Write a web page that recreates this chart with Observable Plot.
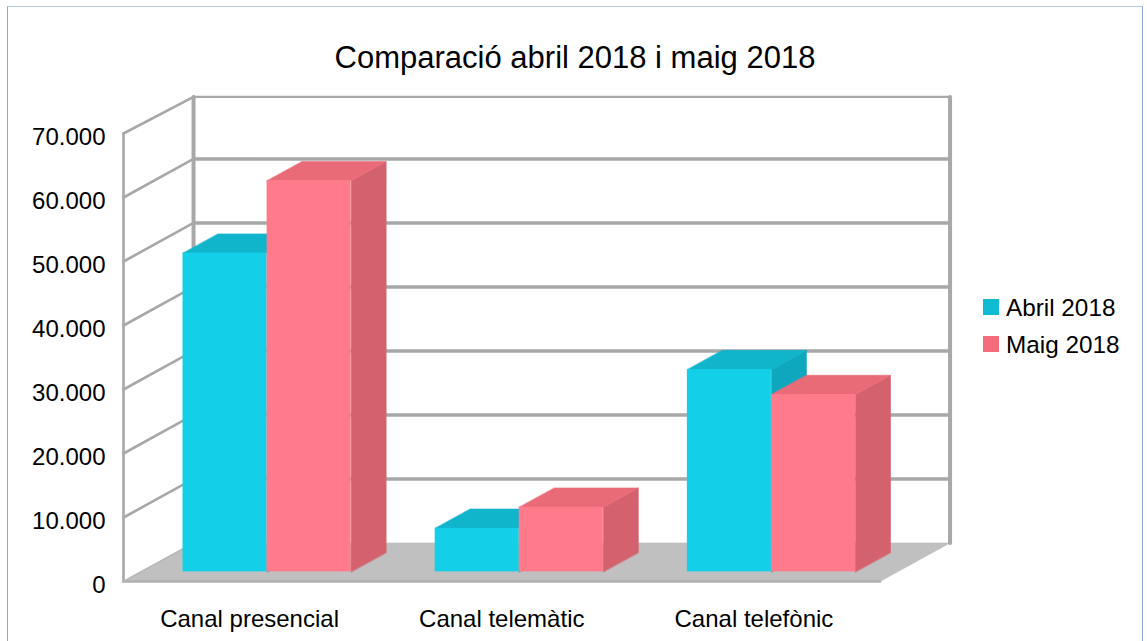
<!DOCTYPE html>
<html lang="ca">
<head>
<meta charset="utf-8">
<script src="https://cdn.jsdelivr.net/npm/d3@7"></script>
<script src="https://cdn.jsdelivr.net/npm/@observablehq/plot@0.6"></script>
<style>
html,body{margin:0;padding:0;background:#fff;overflow:hidden}
#page{position:relative;width:1147px;height:641px;font-family:"Liberation Sans",Arial,sans-serif;color:#000}
#frame{position:absolute;left:7px;top:6px;width:1136px;height:640px;border:1px solid #8fa8d2;border-top-color:#b4c7e7;box-sizing:border-box;pointer-events:none}
#title{height:80px;box-sizing:border-box;padding-top:36px;text-align:center;font-size:31px;line-height:44px;padding-left:3px;white-space:nowrap}
#chart svg{display:block}
#legend{position:absolute;left:983px;top:288px;font-size:24.3px}
.item{display:flex;align-items:center;height:37px}
.sw{width:16px;height:16px;margin-right:7px}
.item span{position:relative;top:1.5px}
</style>
</head>
<body>
<div id="page">
  <div id="frame"></div>
  <div id="title">Comparació abril 2018 i maig 2018</div>
  <div id="chart"></div>
  <div id="legend"></div>
</div>
<script>
const categories = ["Canal presencial", "Canal telemàtic", "Canal telefònic"];
const seriesNames = ["Abril 2018", "Maig 2018"];
const abril = [49800, 6800, 31600];
const maig = [61100, 10100, 27700];
const yTicks = [0, 10000, 20000, 30000, 40000, 50000, 60000, 70000];
const legendColors = ["#10bcd4", "#f46c7c"];
const faceColors = [
  {front: "#13cfe8", top: "#10b4cb", side: "#0fa7bd"},
  {front: "#ff7a8a", top: "#e96b78", side: "#d4616e"}
];
const gridColor = "#a8a8a8";

// oblique projection: depth 0 is the front plane, depth 1 the back wall
const depthX = 70 / 252;
const depthY = 6020;
const P = (x, v, d) => ({x: x + d * depthX, y: v + d * depthY});

const poly = (pts, color) => Plot.line(pts, {x: "x", y: "y", fill: color, stroke: color, strokeWidth: 0.6, curve: "linear-closed"});
const seg = (pts, w, color = gridColor) => Plot.line(pts, {x: "x", y: "y", stroke: color, strokeWidth: w});

const nCat = categories.length;
const barMarks = [];
categories.forEach((c, i) => {
  [abril, maig].forEach((vals, s) => {
    const x0 = i + 1 / 6 + s / 3, x1 = x0 + 1 / 3, v = vals[i], col = faceColors[s];
    barMarks.push(poly([P(x1, 0, .25), P(x1, v, .25), P(x1, v, .75), P(x1, 0, .75)], col.side));
    barMarks.push(poly([P(x0, v, .25), P(x1, v, .25), P(x1, v, .75), P(x0, v, .75)], col.top));
    barMarks.push(Plot.rect([{x1: x0 + .25 * depthX, x2: x1 + .25 * depthX, y1: .25 * depthY, y2: v + .25 * depthY}],
      {x1: "x1", x2: "x2", y1: "y1", y2: "y2", fill: col.front}));
  });
});

const yMax = yTicks[yTicks.length - 1];
const wallTop = yMax - 300; // the back wall's top edge sits just under the 70.000 line
const chartPlot = Plot.plot({
  width: 1147, height: 561,
  marginLeft: 123, marginRight: 267.5, marginTop: 53, marginBottom: 60,
  style: {overflow: "visible", background: "transparent", fontFamily: "'Liberation Sans', Arial, sans-serif", color: "#000"},
  x: {domain: [0, nCat], axis: null},
  y: {domain: [0, yMax], axis: null},
  marks: [
    poly([P(0, 0, 0), P(nCat, 0, 0), P(nCat, 0, 1), P(0, 0, 1)], "#c0c0c0"),
    ...yTicks.filter(t => t > 0 && t < yMax).map(t => seg([P(0, t, 0), P(0, t, 1)], 2.6)),
    seg([P(0, yMax, 0), P(0, wallTop, 1)], 2.6),
    ...yTicks.filter(t => t > 0 && t < yMax).map(t => seg([P(0, t, 1), P(nCat, t, 1)], 3.4)),
    seg([P(0, wallTop, 1), P(nCat, wallTop, 1)], 2.4),
    seg([P(0, 0, 1), P(0, wallTop, 1)], 4),
    seg([P(nCat, 0, 1), P(nCat, wallTop, 1)], 4),
    seg([P(0, 0, 0), P(0, yMax, 0)], 2.6),
    seg([P(0, 0, 0), P(nCat, 0, 0)], 2.6, "#b0b0b0"),
    seg([P(0, 0, 0), P(0, 0, 1)], 1.5, "#b8b8b8"),
    ...barMarks,
    Plot.axisY({
      ticks: yTicks, tickSize: 0, tickPadding: 18, label: null, fontSize: 24, dy: 4,
      tickFormat: d => d3.format(",")(d).replace(/,/g, ".")
    }),
    Plot.axisX({
      ticks: categories.map((c, i) => i + .5), tickSize: 0, tickPadding: 28, label: null, fontSize: 24,
      tickFormat: d => categories[d - .5]
    })
  ]
});
document.getElementById("chart").appendChild(chartPlot);

const legendBox = document.getElementById("legend");
seriesNames.forEach((n, i) => {
  const it = document.createElement("div");
  it.className = "item";
  const sw = document.createElement("div");
  sw.className = "sw";
  sw.style.background = legendColors[i];
  const t = document.createElement("span");
  t.textContent = n;
  it.append(sw, t);
  legendBox.append(it);
});
</script>
</body>
</html>
